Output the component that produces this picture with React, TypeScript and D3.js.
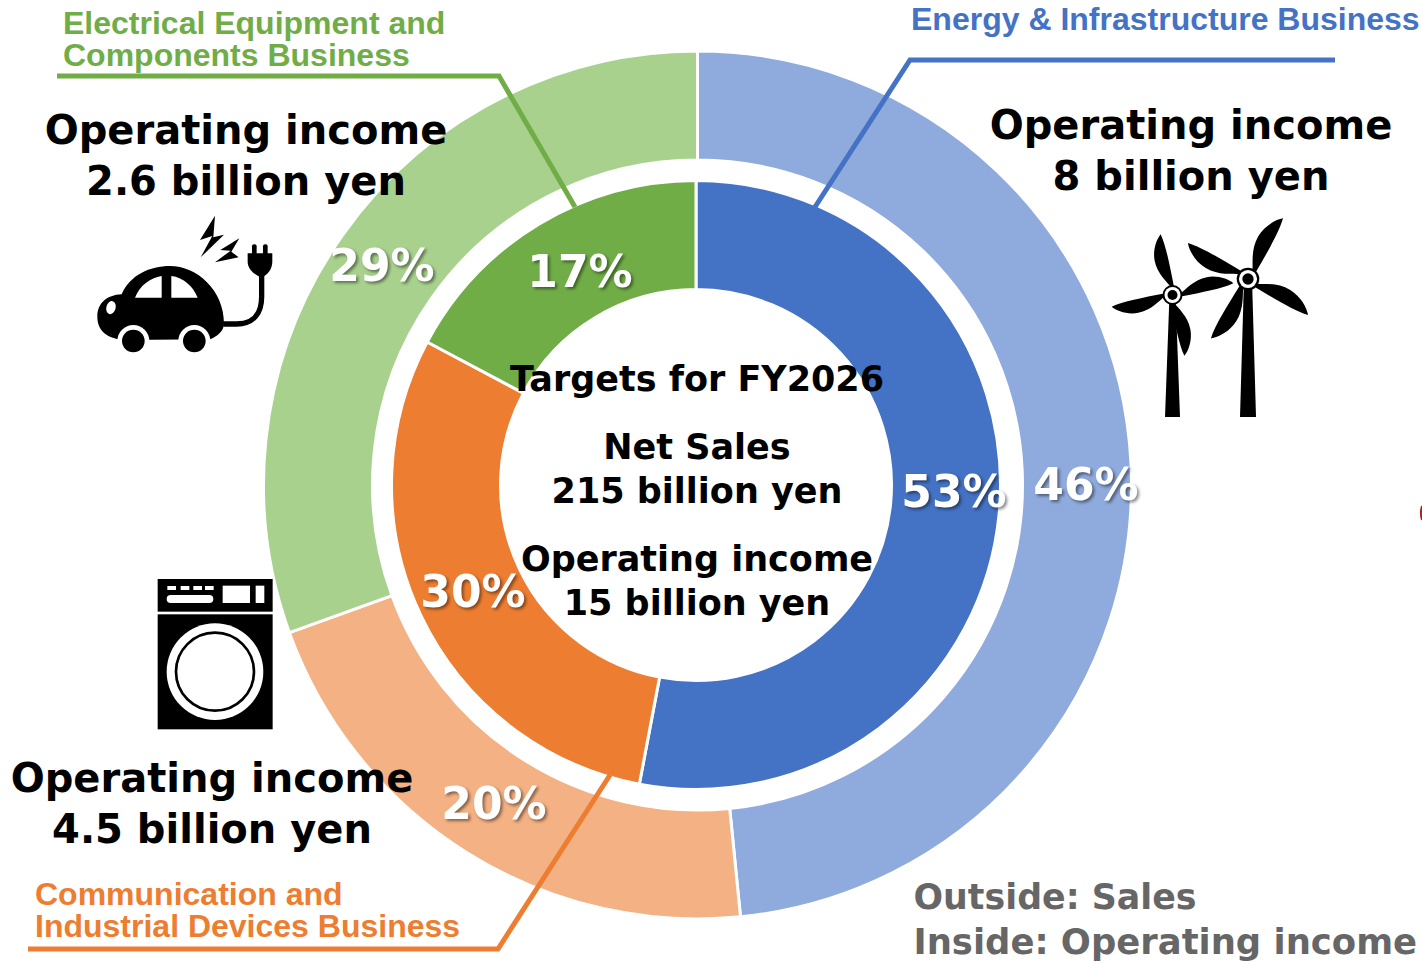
import React from "react";
import * as d3 from "d3";

const segments = ["Energy & Infrastructure", "Communication and Industrial Devices", "Electrical Equipment and Components"];
const salesShare = [46, 20, 29];
const incomeBillions = [8, 4.5, 2.6];
const salesColors = ["#8FAADC", "#F4B183", "#A9D18E"];
const incomeColors = ["#4472C4", "#ED7D31", "#70AD47"];
const salesLabels = [
  { text: "46%", x: 1086, y: 500 },
  { text: "20%", x: 494, y: 819 },
  { text: "29%", x: 382, y: 281 },
];
const incomeLabels = [
  { text: "53%", x: 954, y: 507 },
  { text: "30%", x: 473, y: 607 },
  { text: "17%", x: 580, y: 287 },
];
const callouts = [
  { lines: ["Operating income", "2.6 billion yen"], x: 246, y: 144 },
  { lines: ["Operating income", "8 billion yen"], x: 1191, y: 139 },
  { lines: ["Operating income", "4.5 billion yen"], x: 212, y: 792 },
];
const centerText = [
  { t: "Targets for FY2026", y: 391 },
  { t: "Net Sales", y: 459 },
  { t: "215 billion yen", y: 503 },
  { t: "Operating income", y: 571 },
  { t: "15 billion yen", y: 615 },
];
const businessLabels = [
  { lines: ["Energy & Infrastructure Business"], x: 911, y: 30, c: "#4472C4" },
  { lines: ["Electrical Equipment and", "Components Business"], x: 63, y: 34, c: "#70AD47" },
  { lines: ["Communication and", "Industrial Devices Business"], x: 35, y: 905, c: "#ED7D31" },
];
const leaders = [
  { pts: [[1335, 60], [910, 60], [815, 207]], c: "#4472C4" },
  { pts: [[57, 76], [499, 76], [575, 207]], c: "#70AD47" },
  { pts: [[28, 949], [498, 949], [610, 775]], c: "#ED7D31" },
];
const keyNotes = [
  { t: "Outside: Sales", y: 909, size: 34.8 },
  { t: "Inside: Operating income", y: 954, size: 35.4 },
];

const CX = 697.5, CY = 485;
const INNER_CX = 696;
const VERDANA = "'DejaVu Sans', sans-serif";
const ARIAL = "'Liberation Sans', Arial, sans-serif";
const pie = d3.pie<number>().sort(null);

const BLADE = "M0,-8 C-3,-14 -11,-24 -11,-37 C-11,-48 -5,-58 0,-62 C3,-50 3,-30 3,-8 Z";
const turbines = [
  { hub: [1172.5, 295], blades: [-11, 79, 169, 259], s: 1, top: 3, bot: 7.5, base: 417 },
  { hub: [1248, 279], blades: [30, 121, 212, 301], s: 1.13, top: 4, bot: 8, base: 417 },
];

function Turbine({ t }: { t: (typeof turbines)[number] }) {
  const [x, y] = t.hub;
  return (
    <g>
      <path d={`M${x - t.top},${y} L${x + t.top},${y} L${x + t.bot},${t.base} L${x - t.bot},${t.base} Z`} fill="#000" />
      {t.blades.map((a, i) => (
        <path key={i} d={BLADE} fill="#000" transform={`translate(${x},${y}) rotate(${a}) scale(${t.s})`} />
      ))}
      <circle cx={x} cy={y} r={10 * t.s} fill="#000" />
      <circle cx={x} cy={y} r={8 * t.s} fill="#fff" />
      <circle cx={x} cy={y} r={5 * t.s} fill="#000" />
    </g>
  );
}

function Car() {
  return (
    <g transform="translate(80,200) scale(0.3333)">
      <path d="M430,372 L470,372 C520,372 545,340 545,290 L545,225" fill="none" stroke="#000" strokeWidth={16} />
      <path d="M503,160 L577,160 L577,185 C577,208 562,225 545,232 C525,225 503,208 503,185 Z" fill="#000" />
      <rect x={516} y={133} width={14} height={32} rx={6} fill="#000" />
      <rect x={549} y={133} width={14} height={32} rx={6} fill="#000" />
      <path d="M405,47 L360,120 L397,108 L362,172 L432,104 L400,112 Z" fill="#000" />
      <path d="M478,115 L421,150 L452,152 L405,187 L476,172 L454,155 Z" fill="#000" />
      <path d="M52,350 C52,310 80,285 125,283 C150,225 210,198 270,198 C350,198 432,270 432,370 C432,395 410,410 390,418 L130,420 C85,415 52,395 52,350 Z" fill="#000" />
      <path d="M165,293 C180,255 210,235 245,228 L245,293 Z" fill="#fff" />
      <path d="M274,228 C310,232 340,260 353,293 L274,293 Z" fill="#fff" />
      <ellipse cx={93} cy={323} rx={14} ry={20} transform="rotate(15 93 323)" fill="#fff" />
      <circle cx={160} cy={423} r={48} fill="#fff" />
      <circle cx={343} cy={423} r={48} fill="#fff" />
      <circle cx={160} cy={423} r={34} fill="#000" />
      <circle cx={343} cy={423} r={34} fill="#000" />
    </g>
  );
}

function Washer() {
  return (
    <g transform="translate(140,565) scale(0.3333)">
      <rect x={53} y={42} width={345} height={98} fill="#000" />
      <rect x={53} y={148} width={345} height={345} fill="#000" />
      {[82, 122, 160, 195].map((x) => (
        <rect key={x} x={x} y={63} width={26} height={12} fill="#fff" />
      ))}
      <rect x={80} y={90} width={140} height={24} rx={12} fill="#fff" />
      <rect x={248} y={62} width={82} height={52} fill="#fff" />
      <rect x={347} y={62} width={26} height={52} fill="#fff" />
      <circle cx={225} cy={320} r={145} fill="#fff" />
      <circle cx={225} cy={320} r={117} fill="#fff" stroke="#000" strokeWidth={8} />
    </g>
  );
}

function Ring({ values, colors, inner, outer, cx }: { values: number[]; colors: string[]; inner: number; outer: number; cx: number }) {
  const arc = d3.arc<d3.PieArcDatum<number>>().innerRadius(inner).outerRadius(outer);
  return (
    <g transform={`translate(${cx},${CY})`}>
      {pie(values).map((d, i) => (
        <path key={segments[i]} d={arc(d) ?? ""} fill={colors[i]} stroke="#fff" strokeWidth={3} />
      ))}
    </g>
  );
}

export default function App() {
  const line = d3.line();
  const pctStyle = { filter: "drop-shadow(2px 2px 1.5px rgba(0,0,0,0.45))" };
  return (
    <svg width={1422} height={962} viewBox="0 0 1422 962" style={{ position: "absolute", left: 0, top: 0, display: "block", background: "#fff" }}>
      <Ring values={salesShare} colors={salesColors} inner={325} outer={434} cx={CX} />
      <Ring values={incomeBillions} colors={incomeColors} inner={195.5} outer={304.5} cx={INNER_CX} />

      {leaders.map((l, i) => (
        <path key={i} d={line(l.pts as [number, number][]) ?? ""} fill="none" stroke={l.c} strokeWidth={5} />
      ))}

      {centerText.map((c) => (
        <text key={c.y} x={697} y={c.y} textAnchor="middle" fontFamily={VERDANA} fontWeight={700} fontSize={35} fill="#000">{c.t}</text>
      ))}

      {[...salesLabels, ...incomeLabels].map((l) => (
        <text key={l.x} x={l.x} y={l.y} textAnchor="middle" fontFamily={VERDANA} fontWeight={700} fontSize={44} fill="#fff" style={pctStyle}>{l.text}</text>
      ))}

      {callouts.map((c) => (
        <text key={c.x} textAnchor="middle" fontFamily={VERDANA} fontWeight={700} fontSize={40} fill="#000">
          {c.lines.map((t, i) => (
            <tspan key={i} x={c.x} y={c.y + i * 51}>{t}</tspan>
          ))}
        </text>
      ))}

      {businessLabels.map((b) => (
        <text key={b.x} fontFamily={ARIAL} fontWeight={700} fontSize={32} fill={b.c}>
          {b.lines.map((t, i) => (
            <tspan key={i} x={b.x} y={b.y + i * 32}>{t}</tspan>
          ))}
        </text>
      ))}

      {keyNotes.map((k) => (
        <text key={k.y} x={913.5} y={k.y} fontFamily={VERDANA} fontWeight={700} fontSize={k.size} fill="#666">{k.t}</text>
      ))}

      {turbines.map((t, i) => <Turbine key={i} t={t} />)}
      <Car />
      <Washer />
      <path d="M1422,506 A24,24 0 0 0 1422,520" fill="none" stroke="#b02020" strokeWidth={2} />
    </svg>
  );
}
